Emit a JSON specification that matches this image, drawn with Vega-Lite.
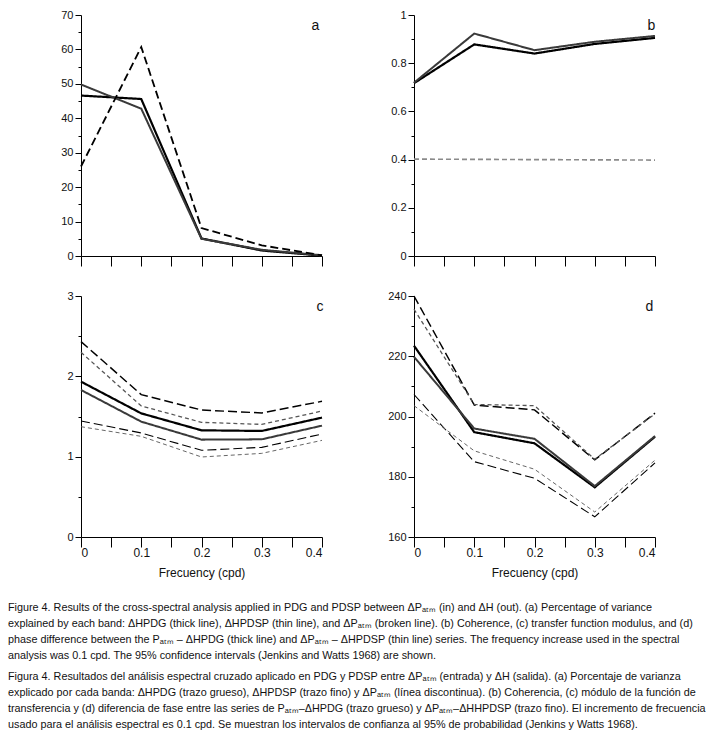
{
  "$schema": "https://vega.github.io/schema/vega-lite/v6.json",
  "padding": {"left": 8, "top": 9, "right": 4, "bottom": 4},
  "background": "white",
  "datasets": {
    "a": [
      {"f": 0, "v": 46.6, "s": "thick"}, {"f": 0.1, "v": 45.6, "s": "thick"}, {"f": 0.2, "v": 5.1, "s": "thick"}, {"f": 0.3, "v": 1.6, "s": "thick"}, {"f": 0.4, "v": 0.1, "s": "thick"},
      {"f": 0, "v": 49.8, "s": "thin"}, {"f": 0.1, "v": 42.8, "s": "thin"}, {"f": 0.2, "v": 5.0, "s": "thin"}, {"f": 0.3, "v": 1.8, "s": "thin"}, {"f": 0.4, "v": 0.2, "s": "thin"},
      {"f": 0, "v": 26.0, "s": "broken"}, {"f": 0.1, "v": 60.7, "s": "broken"}, {"f": 0.2, "v": 8.1, "s": "broken"}, {"f": 0.3, "v": 3.1, "s": "broken"}, {"f": 0.4, "v": 0.2, "s": "broken"}
    ],
    "b": [
      {"f": 0, "v": 0.717, "s": "thick"}, {"f": 0.1, "v": 0.878, "s": "thick"}, {"f": 0.2, "v": 0.840, "s": "thick"}, {"f": 0.3, "v": 0.880, "s": "thick"}, {"f": 0.4, "v": 0.905, "s": "thick"},
      {"f": 0, "v": 0.719, "s": "thin"}, {"f": 0.1, "v": 0.923, "s": "thin"}, {"f": 0.2, "v": 0.854, "s": "thin"}, {"f": 0.3, "v": 0.889, "s": "thin"}, {"f": 0.4, "v": 0.913, "s": "thin"},
      {"f": 0, "v": 0.402, "s": "sig"}, {"f": 0.1, "v": 0.401, "s": "sig"}, {"f": 0.2, "v": 0.400, "s": "sig"}, {"f": 0.3, "v": 0.399, "s": "sig"}, {"f": 0.4, "v": 0.398, "s": "sig"}
    ],
    "c": [
      {"f": 0, "v": 1.934, "s": "thick"}, {"f": 0.1, "v": 1.539, "s": "thick"}, {"f": 0.2, "v": 1.328, "s": "thick"}, {"f": 0.3, "v": 1.320, "s": "thick"}, {"f": 0.4, "v": 1.486, "s": "thick"},
      {"f": 0, "v": 1.830, "s": "thin"}, {"f": 0.1, "v": 1.436, "s": "thin"}, {"f": 0.2, "v": 1.212, "s": "thin"}, {"f": 0.3, "v": 1.216, "s": "thin"}, {"f": 0.4, "v": 1.386, "s": "thin"},
      {"f": 0, "v": 2.432, "s": "thickUpper"}, {"f": 0.1, "v": 1.772, "s": "thickUpper"}, {"f": 0.2, "v": 1.581, "s": "thickUpper"}, {"f": 0.3, "v": 1.544, "s": "thickUpper"}, {"f": 0.4, "v": 1.689, "s": "thickUpper"},
      {"f": 0, "v": 2.299, "s": "thinUpper"}, {"f": 0.1, "v": 1.631, "s": "thinUpper"}, {"f": 0.2, "v": 1.427, "s": "thinUpper"}, {"f": 0.3, "v": 1.402, "s": "thinUpper"}, {"f": 0.4, "v": 1.568, "s": "thinUpper"},
      {"f": 0, "v": 1.444, "s": "thickLower"}, {"f": 0.1, "v": 1.295, "s": "thickLower"}, {"f": 0.2, "v": 1.079, "s": "thickLower"}, {"f": 0.3, "v": 1.116, "s": "thickLower"}, {"f": 0.4, "v": 1.282, "s": "thickLower"},
      {"f": 0, "v": 1.373, "s": "thinLower"}, {"f": 0.1, "v": 1.253, "s": "thinLower"}, {"f": 0.2, "v": 0.996, "s": "thinLower"}, {"f": 0.3, "v": 1.041, "s": "thinLower"}, {"f": 0.4, "v": 1.203, "s": "thinLower"}
    ],
    "d": [
      {"f": 0, "v": 223.5, "s": "thick"}, {"f": 0.1, "v": 194.8, "s": "thick"}, {"f": 0.2, "v": 191.1, "s": "thick"}, {"f": 0.3, "v": 176.5, "s": "thick"}, {"f": 0.4, "v": 193.3, "s": "thick"},
      {"f": 0, "v": 219.8, "s": "thin"}, {"f": 0.1, "v": 196.0, "s": "thin"}, {"f": 0.2, "v": 192.6, "s": "thin"}, {"f": 0.3, "v": 176.9, "s": "thin"}, {"f": 0.4, "v": 193.5, "s": "thin"},
      {"f": 0, "v": 240.0, "s": "thickUpper"}, {"f": 0.1, "v": 203.8, "s": "thickUpper"}, {"f": 0.2, "v": 202.2, "s": "thickUpper"}, {"f": 0.3, "v": 185.6, "s": "thickUpper"}, {"f": 0.4, "v": 201.1, "s": "thickUpper"},
      {"f": 0, "v": 235.6, "s": "thinUpper"}, {"f": 0.1, "v": 204.0, "s": "thinUpper"}, {"f": 0.2, "v": 203.6, "s": "thinUpper"}, {"f": 0.3, "v": 185.8, "s": "thinUpper"}, {"f": 0.4, "v": 200.9, "s": "thinUpper"},
      {"f": 0, "v": 207.3, "s": "thickLower"}, {"f": 0.1, "v": 185.0, "s": "thickLower"}, {"f": 0.2, "v": 179.5, "s": "thickLower"}, {"f": 0.3, "v": 166.7, "s": "thickLower"}, {"f": 0.4, "v": 184.6, "s": "thickLower"},
      {"f": 0, "v": 203.6, "s": "thinLower"}, {"f": 0.1, "v": 188.6, "s": "thinLower"}, {"f": 0.2, "v": 182.5, "s": "thinLower"}, {"f": 0.3, "v": 168.3, "s": "thinLower"}, {"f": 0.4, "v": 185.5, "s": "thinLower"}
    ]
  },
  "title": {
    "text": [
      "Figure 4. Results of the cross-spectral analysis applied in PDG and PDSP between ΔPₐₜₘ (in) and ΔH (out). (a) Percentage of variance",
      "explained by each band: ΔHPDG (thick line), ΔHPDSP (thin line), and ΔPₐₜₘ (broken line). (b) Coherence, (c) transfer function modulus, and (d)",
      "phase difference between the Pₐₜₘ – ΔHPDG (thick line) and ΔPₐₜₘ – ΔHPDSP (thin line) series. The frequency increase used in the spectral",
      "analysis was 0.1 cpd. The 95% confidence intervals (Jenkins and Watts 1968) are shown."
    ],
    "subtitle": [
      "Figura 4. Resultados del análisis espectral cruzado aplicado en PDG y PDSP entre ΔPₐₜₘ (entrada) y ΔH (salida). (a) Porcentaje de varianza",
      "explicado por cada banda: ΔHPDG (trazo grueso), ΔHPDSP (trazo fino) y ΔPₐₜₘ (línea discontinua). (b) Coherencia, (c) módulo de la función de",
      "transferencia y (d) diferencia de fase entre las series de Pₐₜₘ–ΔHPDG (trazo grueso) y ΔPₐₜₘ–ΔHHPDSP (trazo fino). El incremento de frecuencia",
      "usado para el análisis espectral es 0.1 cpd. Se muestran los intervalos de confianza al 95% de probabilidad (Jenkins y Watts 1968)."
    ],
    "orient": "bottom",
    "anchor": "start",
    "frame": "bounds",
    "font": "Liberation Sans",
    "fontSize": 10.8,
    "fontWeight": "normal",
    "color": "#111111",
    "lineHeight": 16,
    "subtitleFont": "Liberation Sans",
    "subtitleFontSize": 10.8,
    "subtitleFontWeight": "normal",
    "subtitleColor": "#111111",
    "subtitleLineHeight": 16,
    "subtitlePadding": 10,
    "offset": 24
  },
  "columns": 2,
  "spacing": {"row": 23, "column": 57},
  "concat": [
    {
      "width": 241, "height": 241,
      "data": {"name": "a"},
      "title": {"text": "a", "anchor": "end", "offset": -24, "dx": -7, "font": "Liberation Sans", "fontSize": 14, "fontWeight": "normal", "color": "#111111"},
      "mark": {"type": "line"},
      "encoding": {
        "x": {"field": "f", "type": "quantitative", "scale": {"domain": [0, 0.4], "nice": false},
              "axis": {"values": [0, 0.05, 0.1, 0.15, 0.2, 0.25, 0.3, 0.35, 0.4], "labels": false, "title": null, "tickSize": 10}},
        "y": {"field": "v", "type": "quantitative", "scale": {"domain": [0, 70], "nice": false},
              "axis": {"values": [0, 5, 10, 15, 20, 25, 30, 35, 40, 45, 50, 55, 60, 65, 70], "format": "d",
                       "labelExpr": "datum.value % 10 == 0 ? datum.label : ''",
                       "tickSize": {"condition": {"test": "datum.value % 10 == 0", "value": 6}, "value": 3},
                       "title": null, "minExtent": 73}},
        "color": {"field": "s", "type": "nominal", "legend": null,
                  "scale": {"domain": ["thick", "thin", "broken", "sig", "thickUpper", "thinUpper", "thickLower", "thinLower"],
                            "range": ["#000000", "#3a3a3a", "#000000", "#8a8a8a", "#000000", "#555555", "#000000", "#555555"]}},
        "strokeWidth": {"field": "s", "type": "ordinal", "legend": null,
                        "scale": {"domain": ["thick", "thin", "broken", "sig", "thickUpper", "thinUpper", "thickLower", "thinLower"],
                                  "range": [2.2, 0.9, 1.3, 1, 1.7, 0.9, 1.7, 0.9]}},
        "strokeDash": {"field": "s", "type": "nominal", "legend": null,
                       "scale": {"domain": ["thick", "thin", "broken", "sig", "thickUpper", "thinUpper", "thickLower", "thinLower"],
                                 "range": [[1, 0], [1, 0], [8, 4], [5, 3], [9, 4], [4, 3], [9, 4], [4, 3]]}}
      }
    },
    {
      "width": 241, "height": 241,
      "data": {"name": "b"},
      "title": {"text": "b", "anchor": "end", "offset": -24, "dx": -4, "font": "Liberation Sans", "fontSize": 14, "fontWeight": "normal", "color": "#111111"},
      "mark": {"type": "line"},
      "encoding": {
        "x": {"field": "f", "type": "quantitative", "scale": {"domain": [0, 0.4], "nice": false},
              "axis": {"values": [0, 0.05, 0.1, 0.15, 0.2, 0.25, 0.3, 0.35, 0.4], "labels": false, "title": null, "tickSize": 10}},
        "y": {"field": "v", "type": "quantitative", "scale": {"domain": [0, 1], "nice": false},
              "axis": {"values": [0, 0.1, 0.2, 0.3, 0.4, 0.5, 0.6, 0.7, 0.8, 0.9, 1], "format": "~g",
                       "labelExpr": "round(datum.value * 10) % 2 == 0 ? datum.label : ''",
                       "tickSize": {"condition": {"test": "round(datum.value * 10) % 2 == 0", "value": 6}, "value": 3},
                       "title": null, "minExtent": 30}},
        "color": {"field": "s", "type": "nominal", "legend": null,
                  "scale": {"domain": ["thick", "thin", "broken", "sig", "thickUpper", "thinUpper", "thickLower", "thinLower"],
                            "range": ["#000000", "#3a3a3a", "#000000", "#8a8a8a", "#000000", "#555555", "#000000", "#555555"]}},
        "strokeWidth": {"field": "s", "type": "ordinal", "legend": null,
                        "scale": {"domain": ["thick", "thin", "broken", "sig", "thickUpper", "thinUpper", "thickLower", "thinLower"],
                                  "range": [2.2, 0.9, 1.3, 1, 1.7, 0.9, 1.7, 0.9]}},
        "strokeDash": {"field": "s", "type": "nominal", "legend": null,
                       "scale": {"domain": ["thick", "thin", "broken", "sig", "thickUpper", "thinUpper", "thickLower", "thinLower"],
                                 "range": [[1, 0], [1, 0], [8, 4], [5, 3], [9, 4], [4, 3], [9, 4], [4, 3]]}}
      }
    },
    {
      "width": 241, "height": 241,
      "data": {"name": "c"},
      "title": {"text": "c", "anchor": "end", "offset": -24, "dx": -3, "font": "Liberation Sans", "fontSize": 14, "fontWeight": "normal", "color": "#111111"},
      "mark": {"type": "line"},
      "encoding": {
        "x": {"field": "f", "type": "quantitative", "scale": {"domain": [0, 0.4], "nice": false},
              "axis": {"values": [0, 0.05, 0.1, 0.15, 0.2, 0.25, 0.3, 0.35, 0.4], "format": "~g",
                       "labelExpr": "abs(datum.value * 10 - round(datum.value * 10)) < 0.000001 ? datum.label : ''",
                       "title": "Frecuency (cpd)", "tickSize": 10}},
        "y": {"field": "v", "type": "quantitative", "scale": {"domain": [0, 3], "nice": false},
              "axis": {"values": [0, 0.5, 1, 1.5, 2, 2.5, 3], "format": "~g",
                       "labelExpr": "datum.value % 1 == 0 ? datum.label : ''",
                       "tickSize": {"condition": {"test": "datum.value % 1 == 0", "value": 6}, "value": 3},
                       "title": null, "minExtent": 73}},
        "color": {"field": "s", "type": "nominal", "legend": null,
                  "scale": {"domain": ["thick", "thin", "broken", "sig", "thickUpper", "thinUpper", "thickLower", "thinLower"],
                            "range": ["#000000", "#3a3a3a", "#000000", "#8a8a8a", "#000000", "#555555", "#000000", "#555555"]}},
        "strokeWidth": {"field": "s", "type": "ordinal", "legend": null,
                        "scale": {"domain": ["thick", "thin", "broken", "sig", "thickUpper", "thinUpper", "thickLower", "thinLower"],
                                  "range": [2.2, 0.9, 1.3, 1, 1.7, 0.9, 1.7, 0.9]}},
        "strokeDash": {"field": "s", "type": "nominal", "legend": null,
                       "scale": {"domain": ["thick", "thin", "broken", "sig", "thickUpper", "thinUpper", "thickLower", "thinLower"],
                                 "range": [[1, 0], [1, 0], [8, 4], [5, 3], [9, 4], [4, 3], [9, 4], [4, 3]]}}
      }
    },
    {
      "width": 241, "height": 241,
      "data": {"name": "d"},
      "title": {"text": "d", "anchor": "end", "offset": -24, "dx": -6, "font": "Liberation Sans", "fontSize": 14, "fontWeight": "normal", "color": "#111111"},
      "mark": {"type": "line"},
      "encoding": {
        "x": {"field": "f", "type": "quantitative", "scale": {"domain": [0, 0.4], "nice": false},
              "axis": {"values": [0, 0.05, 0.1, 0.15, 0.2, 0.25, 0.3, 0.35, 0.4], "format": "~g",
                       "labelExpr": "abs(datum.value * 10 - round(datum.value * 10)) < 0.000001 ? datum.label : ''",
                       "title": "Frecuency (cpd)", "tickSize": 10}},
        "y": {"field": "v", "type": "quantitative", "scale": {"domain": [160, 240], "nice": false, "zero": false},
              "axis": {"values": [160, 170, 180, 190, 200, 210, 220, 230, 240], "format": "d",
                       "labelExpr": "datum.value % 20 == 0 ? datum.label : ''",
                       "tickSize": {"condition": {"test": "datum.value % 20 == 0", "value": 6}, "value": 3},
                       "title": null, "minExtent": 30}},
        "color": {"field": "s", "type": "nominal", "legend": null,
                  "scale": {"domain": ["thick", "thin", "broken", "sig", "thickUpper", "thinUpper", "thickLower", "thinLower"],
                            "range": ["#000000", "#3a3a3a", "#000000", "#8a8a8a", "#000000", "#555555", "#000000", "#555555"]}},
        "strokeWidth": {"field": "s", "type": "ordinal", "legend": null,
                        "scale": {"domain": ["thick", "thin", "broken", "sig", "thickUpper", "thinUpper", "thickLower", "thinLower"],
                                  "range": [2.2, 0.9, 1.3, 1, 1.7, 0.9, 1.7, 0.9]}},
        "strokeDash": {"field": "s", "type": "nominal", "legend": null,
                       "scale": {"domain": ["thick", "thin", "broken", "sig", "thickUpper", "thinUpper", "thickLower", "thinLower"],
                                 "range": [[1, 0], [1, 0], [8, 4], [5, 3], [9, 4], [4, 3], [9, 4], [4, 3]]}}
      }
    }
  ],
  "config": {
    "view": {"stroke": null},
    "font": "Liberation Sans",
    "axis": {
      "grid": false,
      "domainColor": "#000000", "domainWidth": 1,
      "tickColor": "#000000", "tickWidth": 1,
      "labelColor": "#111111", "labelFont": "Liberation Sans", "labelPadding": 2,
      "titleFont": "Liberation Sans", "titleFontSize": 12, "titleFontWeight": "normal", "titleColor": "#111111", "titlePadding": 9
    },
    "axisX": {"labelFontSize": 12, "labelPadding": 0},
    "axisY": {"labelFontSize": 11}
  }
}
